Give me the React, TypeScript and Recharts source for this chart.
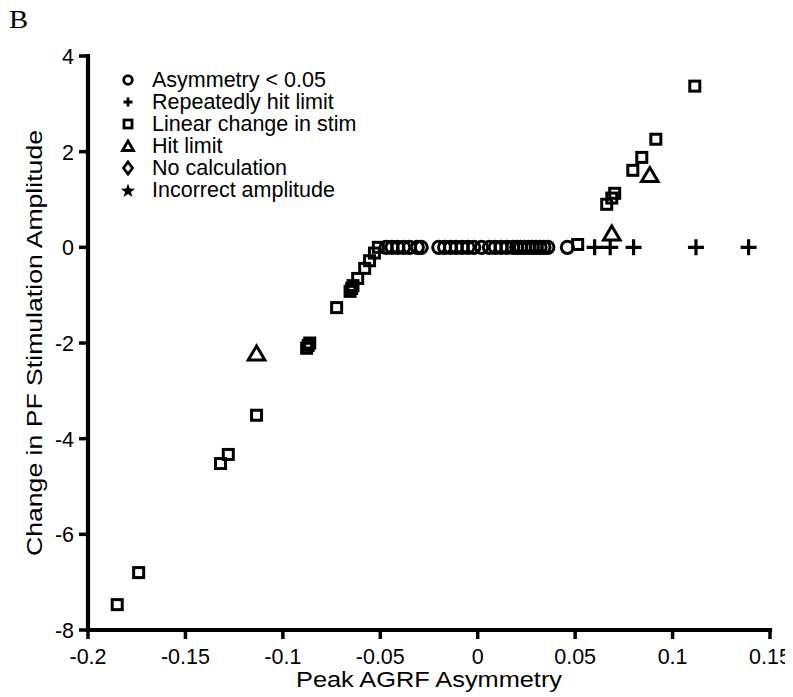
import React from 'react';
import { ScatterChart, Scatter, XAxis, YAxis, Legend, ReferenceLine } from 'recharts';

// ---- Data (x = Peak AGRF Asymmetry, y = Change in PF Stimulation Amplitude) ----
const asymmetryBelow = [
  [-0.047, 0], [-0.044, 0], [-0.041, 0], [-0.038, 0], [-0.035, 0], [-0.031, 0], [-0.029, 0],
  [-0.020, 0], [-0.017, 0], [-0.014, 0], [-0.011, 0], [-0.008, 0], [-0.005, 0], [-0.002, 0],
  [0.002, 0], [0.006, 0], [0.009, 0], [0.012, 0], [0.015, 0], [0.018, 0], [0.020, 0],
  [0.022, 0], [0.024, 0], [0.026, 0], [0.028, 0], [0.030, 0], [0.032, 0], [0.034, 0],
  [0.036, 0], [0.046, 0],
];
const repeatedlyHitLimit = [
  [0.060, 0], [0.068, 0], [0.080, 0], [0.112, 0], [0.139, 0],
];
const linearChange = [
  [-0.185, -7.47], [-0.174, -6.80], [-0.132, -4.52], [-0.128, -4.33], [-0.1135, -3.51],
  [-0.0878, -2.11], [-0.0870, -2.05], [-0.0862, -2.0], [-0.0724, -1.26],
  [-0.0655, -0.92], [-0.0647, -0.86], [-0.0640, -0.80], [-0.0616, -0.65], [-0.058, -0.44],
  [-0.0555, -0.28], [-0.053, -0.12], [-0.051, 0.0],
  [0.0513, 0.06], [0.0662, 0.90], [0.0688, 1.03], [0.0703, 1.13], [0.0796, 1.61],
  [0.0842, 1.88], [0.0914, 2.26], [0.1114, 3.37],
];
const hitLimit = [
  [-0.1135, -2.22], [0.0688, 0.29], [0.0883, 1.51],
];
const noCalculation: number[][] = [];
const incorrectAmplitude: number[][] = [];

const xDomain = [-0.2, 0.15];
const yDomain = [-8, 4];
const xTicks = [-0.2, -0.15, -0.1, -0.05, 0, 0.05, 0.1, 0.15];
const yTicks = [-8, -6, -4, -2, 0, 2, 4];

const seriesNames = [
  'Asymmetry < 0.05',
  'Repeatedly hit limit',
  'Linear change in stim',
  'Hit limit',
  'No calculation',
  'Incorrect amplitude',
];
const xTitle = 'Peak AGRF Asymmetry';
const yTitle = 'Change in PF Stimulation Amplitude';
const panelLetter = 'B';

const toPts = (arr: number[][]) => arr.map(([x, y]) => ({ x, y }));

const FONT = '"Liberation Sans", Arial, sans-serif';
const SW = 3;
const TICK_FS = 21.5;

// ---- Marker shapes ----
const CircleShape = (p: any) => (
  <circle cx={p.cx} cy={p.cy} r={6.1} fill="none" stroke="#000" strokeWidth={SW} />
);
const PlusShape = (p: any) => (
  <path d={`M${p.cx - 8},${p.cy}H${p.cx + 8}M${p.cx},${p.cy - 8}V${p.cy + 8}`} stroke="#000" strokeWidth={3.2} fill="none" />
);
const SquareShape = (p: any) => (
  <rect x={p.cx - 5} y={p.cy - 5} width={10} height={10} fill="none" stroke="#000" strokeWidth={SW} />
);
const TriangleShape = (p: any) => (
  <path d={`M${p.cx},${p.cy - 7.5}L${p.cx + 8.3},${p.cy + 6.5}L${p.cx - 8.3},${p.cy + 6.5}Z`} fill="none" stroke="#000" strokeWidth={SW} />
);
const DiamondShape = (p: any) => (
  <path d={`M${p.cx},${p.cy - 7}L${p.cx + 5},${p.cy}L${p.cx},${p.cy + 7}L${p.cx - 5},${p.cy}Z`} fill="none" stroke="#000" strokeWidth={SW} />
);
const starPoints = (cx: number, cy: number, ro: number, ri: number) => {
  const pts: string[] = [];
  for (let i = 0; i < 10; i++) {
    const r = i % 2 === 0 ? ro : ri;
    const a = -Math.PI / 2 + (i * Math.PI) / 5;
    pts.push(`${cx + r * Math.cos(a)},${cy + r * Math.sin(a)}`);
  }
  return pts.join(' ');
};
const StarShape = (p: any) => <polygon points={starPoints(p.cx, p.cy, 8, 3.4)} fill="#000" />;

// small legend glyphs
const legendGlyphs: Record<string, (c: number) => React.ReactNode> = {
  'Asymmetry < 0.05': (c) => <circle cx={c} cy={c} r={4.3} fill="none" stroke="#000" strokeWidth={2.8} />,
  'Repeatedly hit limit': (c) => <path d={`M${c - 4.5},${c}H${c + 4.5}M${c},${c - 4.5}V${c + 4.5}`} stroke="#000" strokeWidth={2.8} />,
  'Linear change in stim': (c) => <rect x={c - 4} y={c - 4} width={8} height={8} fill="none" stroke="#000" strokeWidth={2.8} />,
  'Hit limit': (c) => <path d={`M${c},${c - 5}L${c + 5.5},${c + 4.5}L${c - 5.5},${c + 4.5}Z`} fill="none" stroke="#000" strokeWidth={2.8} />,
  'No calculation': (c) => <path d={`M${c},${c - 6}L${c + 4.5},${c}L${c},${c + 6}L${c - 4.5},${c}Z`} fill="none" stroke="#000" strokeWidth={2.8} />,
  'Incorrect amplitude': (c) => <polygon points={starPoints(c, c + 1, 7.5, 3.1)} fill="#000" />,
};

const renderLegend = (props: any) => {
  const payload = [...(props.payload || [])].sort(
    (a: any, b: any) => seriesNames.indexOf(a.value) - seriesNames.indexOf(b.value)
  );
  return (
    <div style={{ fontFamily: FONT, fontSize: TICK_FS, color: '#000' }}>
      {payload.map((entry: any) => (
        <div key={entry.value} style={{ display: 'flex', alignItems: 'center', height: 22 }}>
          <svg width={16} height={16} style={{ marginRight: 16, flex: 'none' }}>
            {legendGlyphs[entry.value] ? legendGlyphs[entry.value](8) : null}
          </svg>
          <span style={{ lineHeight: '22px', whiteSpace: 'nowrap' }}>{entry.value}</span>
        </div>
      ))}
    </div>
  );
};

// custom ticks: own thick tick mark + label (x, y = position on the axis line)
const XTick = (p: any) => (
  <g>
    <line x1={p.x} y1={p.y} x2={p.x} y2={p.y + 9} stroke="#000" strokeWidth={3.5} />
    <text x={p.x} y={p.y + 34} textAnchor="middle" fontFamily={FONT} fontSize={TICK_FS} fill="#000">
      {String(p.payload.value)}
    </text>
  </g>
);
const YTick = (p: any) => (
  <g>
    <line x1={p.x - 9} y1={p.y} x2={p.x} y2={p.y} stroke="#000" strokeWidth={3.5} />
    <text x={p.x - 14} y={p.y + 8} textAnchor="end" fontFamily={FONT} fontSize={TICK_FS} fill="#000">
      {String(p.payload.value)}
    </text>
  </g>
);

const XTitle = (props: any) => {
  const vb = props.viewBox || {};
  return (
    <text x={vb.x + vb.width / 2} y={vb.y + 57} textAnchor="middle" fontFamily={FONT} fontSize={22}
      fill="#000" textLength={266} lengthAdjust="spacingAndGlyphs">{xTitle}</text>
  );
};
const YTitle = (props: any) => {
  const vb = props.viewBox || {};
  const cx = 34;
  const cy = vb.y + vb.height / 2;
  return (
    <text x={cx} y={cy} transform={`rotate(-90, ${cx}, ${cy})`} textAnchor="middle" fontFamily={FONT} fontSize={22}
      fill="#000" textLength={426} lengthAdjust="spacingAndGlyphs">{yTitle}</text>
  );
};

export default function App() {
  return (
    <div style={{ position: 'relative', width: 785, height: 689 }}>
      <div style={{ position: 'absolute', left: 1, top: -2, fontFamily: '"Liberation Serif", "Times New Roman", serif', fontSize: 25, lineHeight: '28px', transform: 'scaleX(1.15)', transformOrigin: 'left top' }}>{panelLetter}</div>
      <ScatterChart width={785} height={689} margin={{ top: 48, right: 23, bottom: 5, left: 0 }}>
        <XAxis
          type="number"
          dataKey="x"
          domain={xDomain}
          ticks={xTicks}
          allowDataOverflow
          axisLine={false}
          tickLine={false}
          tickSize={0}
          tickMargin={0}
          height={62}
          tick={<XTick />}
          interval={0}
          label={<XTitle />}
        />
        <YAxis
          type="number"
          dataKey="y"
          domain={yDomain}
          ticks={yTicks}
          allowDataOverflow
          width={80}
          axisLine={false}
          tickLine={false}
          tickSize={0}
          tickMargin={0}
          tick={<YTick />}
          interval={0}
          label={<YTitle />}
        />
        <Legend
          layout="vertical"
          align="center"
          verticalAlign="middle"
          content={renderLegend}
          wrapperStyle={{ left: 112, top: 61, width: 'auto', height: 'auto' }}
        />
        <ReferenceLine segment={[{ x: xDomain[0], y: yDomain[0] }, { x: xDomain[1], y: yDomain[0] }]} stroke="#000" strokeWidth={4.2} strokeLinecap="square" ifOverflow="visible" />
        <ReferenceLine segment={[{ x: xDomain[0], y: yDomain[0] }, { x: xDomain[0], y: yDomain[1] }]} stroke="#000" strokeWidth={4.2} strokeLinecap="square" ifOverflow="visible" />
        <Scatter name={seriesNames[0]} data={toPts(asymmetryBelow)} shape={CircleShape} isAnimationActive={false} />
        <Scatter name={seriesNames[1]} data={toPts(repeatedlyHitLimit)} shape={PlusShape} isAnimationActive={false} />
        <Scatter name={seriesNames[2]} data={toPts(linearChange)} shape={SquareShape} isAnimationActive={false} />
        <Scatter name={seriesNames[3]} data={toPts(hitLimit)} shape={TriangleShape} isAnimationActive={false} />
        <Scatter name={seriesNames[4]} data={toPts(noCalculation)} shape={DiamondShape} isAnimationActive={false} />
        <Scatter name={seriesNames[5]} data={toPts(incorrectAmplitude)} shape={StarShape} isAnimationActive={false} />
      </ScatterChart>
    </div>
  );
}
